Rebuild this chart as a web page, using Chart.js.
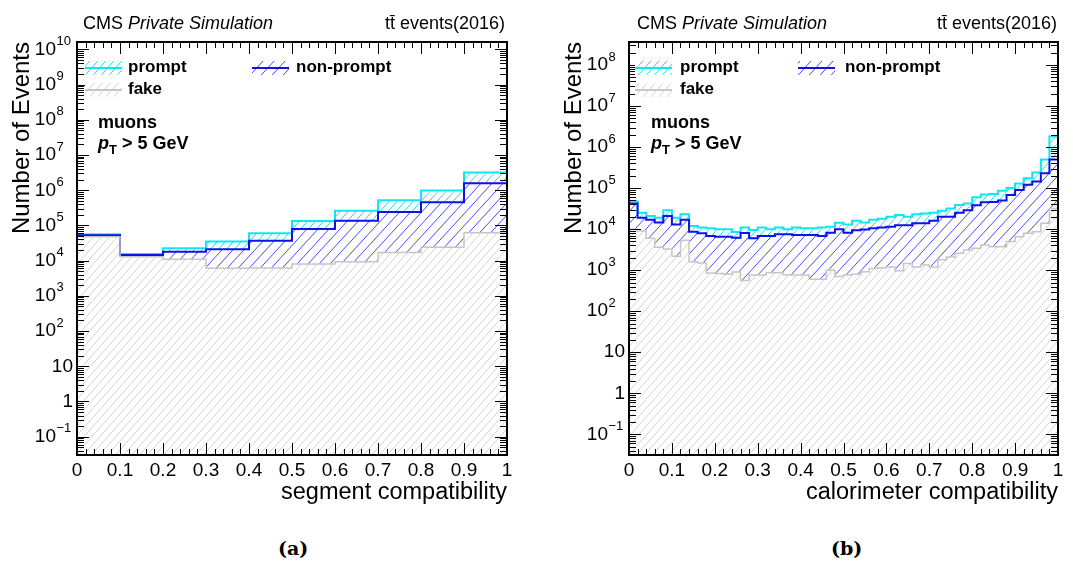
<!DOCTYPE html>
<html lang="en">
<head>
<meta charset="utf-8">
<title>muon compatibility</title>
<script src="https://cdn.jsdelivr.net/npm/chart.js@4.4.1/dist/chart.umd.min.js"></script>
<style>
  body { margin: 0; background: #fff; }
  #hoja { position: relative; width: 1073px; height: 567px; overflow: hidden;
          font-family: "Liberation Sans", Arial, sans-serif; color: #000; }
  canvas { position: absolute; top: 0; }
  .t { position: absolute; white-space: nowrap; line-height: 20px; }
  .cab { font-size: 18px; }
  .ley { font-size: 17px; font-weight: bold; }
  .ann { font-size: 18px; font-weight: bold; }
  .ann sub { font-size: 13px; vertical-align: -5px; }
  .pie { font-family: "DejaVu Serif", serif; font-weight: bold; font-size: 19px; }
</style>
</head>
<body>
<div id="hoja">
  <canvas id="grafSeg" width="536" height="510" style="left:0"></canvas>
  <canvas id="grafCal" width="536" height="510" style="left:537px"></canvas>

  <!-- panel (a) -->
  <div class="t cab" style="left:83px; top:13px">CMS <i>Private Simulation</i></div>
  <div class="t cab" style="right:568px; top:13px">tt&#x0304; events(2016)</div>
  <div class="t ley" style="left:128px; top:57px">prompt</div>
  <div class="t ley" style="left:296px; top:57px">non-prompt</div>
  <div class="t ley" style="left:128px; top:79px">fake</div>
  <div class="t ann" style="left:98px; top:112px">muons</div>
  <div class="t ann" style="left:98px; top:133px"><i>p</i><sub>T</sub> &gt; 5 GeV</div>

  <!-- panel (b) -->
  <div class="t cab" style="left:637px; top:13px">CMS <i>Private Simulation</i></div>
  <div class="t cab" style="right:16px; top:13px">tt&#x0304; events(2016)</div>
  <div class="t ley" style="left:680px; top:57px">prompt</div>
  <div class="t ley" style="left:845px; top:57px">non-prompt</div>
  <div class="t ley" style="left:680px; top:79px">fake</div>
  <div class="t ann" style="left:651px; top:112px">muons</div>
  <div class="t ann" style="left:651px; top:133px"><i>p</i><sub>T</sub> &gt; 5 GeV</div>

  <div class="t pie" style="left:278px; top:538px">(a)</div>
  <div class="t pie" style="left:831px; top:538px">(b)</div>
</div>
<script>
// Alturas acumuladas del stack (fake, fake+non-prompt, total)
const segFake = [4.8e4, 1.3e4, 1.1e4, 6.1e3, 6.2e3, 8.0e3, 9.4e3, 1.7e4, 2.4e4, 6.2e4];
const segNonPrompt = [5.3e4, 1.45e4, 1.8e4, 2.1e4, 3.7e4, 7.9e4, 1.37e5, 2.4e5, 4.6e5, 1.58e6];
const segPrompt = [5.6e4, 1.55e4, 2.25e4, 3.5e4, 6.0e4, 1.35e5, 2.6e5, 5.2e5, 9.8e5, 3.2e6];

const calFake = [1.0e4, 9.0e3, 6.0e3, 3.6e3, 3.3e3, 2.2e3, 5.4e3, 1.6e3, 1.5e3, 850,
  830, 800, 900, 560, 760, 760, 870, 870, 760, 760,
  760, 600, 600, 1.0e3, 700, 760, 800, 910, 1.1e3, 1.15e3,
  1.2e3, 970, 1.45e3, 1.2e3, 1.33e3, 1.2e3, 1.8e3, 2.1e3, 2.6e3, 3.1e3,
  3.4e3, 4.1e3, 3.7e3, 3.7e3, 5.0e3, 6.5e3, 7.9e3, 8.6e3, 1.4e4, 3.2e4];
const calNonPrompt = [4.2e4, 1.9e4, 1.7e4, 1.45e4, 2.1e4, 1.3e4, 1.7e4, 8.6e3, 7.9e3, 6.8e3,
  6.5e3, 6.5e3, 6.2e3, 8.0e3, 6.0e3, 6.8e3, 6.8e3, 7.5e3, 7.5e3, 7.2e3,
  7.2e3, 7.2e3, 6.8e3, 8.2e3, 9.9e3, 8.2e3, 9.4e3, 9.8e3, 1.05e4, 1.1e4,
  1.15e4, 1.25e4, 1.25e4, 1.4e4, 1.4e4, 1.6e4, 2.0e4, 2.0e4, 2.5e4, 2.9e4,
  3.8e4, 4.5e4, 4.6e4, 5.0e4, 6.8e4, 9.0e4, 1.2e5, 1.45e5, 2.3e5, 5.0e5];
const calPrompt = [4.8e4, 2.5e4, 2.1e4, 1.9e4, 2.9e4, 1.9e4, 2.3e4, 1.2e4, 1.1e4, 1.05e4,
  1.0e4, 1.0e4, 8.5e3, 1.1e4, 9.5e3, 1.1e4, 1.0e4, 1.1e4, 1.0e4, 1.1e4,
  1.05e4, 1.05e4, 1.1e4, 1.15e4, 1.43e4, 1.3e4, 1.6e4, 1.45e4, 1.7e4, 1.8e4,
  2.0e4, 2.2e4, 2.0e4, 2.3e4, 2.4e4, 2.5e4, 2.8e4, 3.2e4, 3.9e4, 4.2e4,
  6.0e4, 7.0e4, 7.2e4, 8.6e4, 1.0e5, 1.3e5, 1.75e5, 2.4e5, 5.0e5, 1.8e6];

// etiquetas de los ejes
const xTicks = [0, 0.1, 0.2, 0.3, 0.4, 0.5, 0.6, 0.7, 0.8, 0.9, 1];
const segDecadas = [1e-1, 1, 1e1, 1e2, 1e3, 1e4, 1e5, 1e6, 1e7, 1e8, 1e9, 1e10];
const calDecadas = [1e-1, 1, 1e1, 1e2, 1e3, 1e4, 1e5, 1e6, 1e7, 1e8];

const fuente = '"Liberation Sans", Arial, sans-serif';
Chart.defaults.font.family = fuente;
Chart.defaults.color = '#000';

// patron rayado tipo ROOT (fondo blanco para tapar las capas de detras)
function rayado(ctx, color, ancho, alto) {
  const c = document.createElement('canvas');
  c.width = ancho;
  c.height = alto;
  const g = c.getContext('2d');
  g.fillStyle = '#fff';
  g.fillRect(0, 0, ancho, alto);
  g.strokeStyle = color;
  g.lineWidth = 1;
  g.beginPath();
  for (const dx of [-ancho, 0, ancho]) {
    g.moveTo(dx, alto);
    g.lineTo(dx + ancho, 0);
  }
  g.stroke();
  return ctx.createPattern(c, 'repeat');
}

// marco, ticks hacia dentro, etiquetas 10^n y muestras de la leyenda
const marco = {
  id: 'marco',
  afterDraw(chart, args, opts) {
    const { ctx, chartArea: a } = chart;
    const x = chart.scales.x;
    const y = chart.scales.y;
    ctx.save();
    ctx.strokeStyle = '#000';
    ctx.lineWidth = 1;
    ctx.beginPath();
    for (let k = 0; k <= 50; k++) {
      const px = Math.round(x.getPixelForValue(k / 50)) + 0.5;
      const l = k % 5 === 0 ? 12 : 6;
      ctx.moveTo(px, a.bottom);
      ctx.lineTo(px, a.bottom - l);
      ctx.moveTo(px, a.top);
      ctx.lineTo(px, a.top + l);
    }
    for (let e = -2; e <= 10; e++) {
      for (let m = 1; m < 10; m++) {
        const v = m * Math.pow(10, e);
        if (v < y.min || v > y.max) continue;
        const py = Math.round(y.getPixelForValue(v)) + 0.5;
        const l = m === 1 ? 12 : 7;
        ctx.moveTo(a.left, py);
        ctx.lineTo(a.left + l, py);
        ctx.moveTo(a.right, py);
        ctx.lineTo(a.right - l, py);
      }
    }
    ctx.stroke();
    ctx.lineWidth = 2;
    ctx.strokeRect(a.left, a.top, a.right - a.left, a.bottom - a.top);

    // etiquetas del eje y con exponente
    ctx.fillStyle = '#000';
    ctx.textBaseline = 'middle';
    for (const t of y.ticks) {
      const py = y.getPixelForValue(t.value);
      const e = Math.round(Math.log10(t.value));
      ctx.font = '19px ' + fuente;
      if (e === 0 || e === 1) {
        ctx.textAlign = 'right';
        ctx.fillText(e === 0 ? '1' : '10', a.left - 4, py);
      } else {
        const xb = a.left - 21;
        ctx.textAlign = 'right';
        ctx.fillText('10', xb, py);
        ctx.textAlign = 'left';
        ctx.font = '13px ' + fuente;
        ctx.fillText(String(e).replace('-', '\u2212'), xb + 0.5, py - 8);
      }
    }

    for (const m of opts.muestras || []) {
      ctx.fillStyle = m.relleno;
      ctx.fillRect(m.x, m.y, m.w, m.h);
      ctx.strokeStyle = m.linea;
      ctx.lineWidth = 2;
      ctx.beginPath();
      ctx.moveTo(m.x, m.y + m.h / 2);
      ctx.lineTo(m.x + m.w, m.y + m.h / 2);
      ctx.stroke();
    }
    ctx.restore();
  }
};

function crearGrafica(id, cfg) {
  const ctx = document.getElementById(id).getContext('2d');
  const n = cfg.fake.length;
  const w = 1 / n;
  const barras = vals => vals.map((v, i) => ({ x: (i + 0.5) * w, y: v }));
  const contorno = vals => vals.map((v, i) => ({ x: i * w, y: v })).concat([{ x: 1, y: vals[n - 1] }]);

  const rPrompt = rayado(ctx, '#20e4ee', 8, 9);
  const rNonPrompt = rayado(ctx, '#4848ff', 11, 12);
  const rFake = rayado(ctx, '#d2d2d2', 8, 9);

  const barra = (label, vals, relleno, orden) => ({
    type: 'bar', label, data: barras(vals), backgroundColor: relleno,
    borderWidth: 0, grouped: false, barPercentage: 1, categoryPercentage: 1, order: orden
  });
  const linea = (vals, color, ancho, orden) => ({
    type: 'line', data: contorno(vals), borderColor: color, borderWidth: ancho,
    stepped: true, pointRadius: 0, fill: false, order: orden
  });

  const m = cfg.muestras;
  return new Chart(ctx, {
    type: 'bar',
    data: {
      datasets: [
        barra('prompt', cfg.prompt, rPrompt, 6),
        barra('non-prompt', cfg.nonPrompt, rNonPrompt, 5),
        barra('fake', cfg.fake, rFake, 4),
        linea(cfg.prompt, '#10e6f2', 2, 3),
        linea(cfg.nonPrompt, '#1010e8', 2, 2),
        linea(cfg.fake, '#c6c6c6', 1.5, 1)
      ]
    },
    options: {
      responsive: false,
      animation: false,
      events: [],
      layout: { padding: { top: 42, right: cfg.margenDer, left: 0, bottom: 0 } },
      plugins: {
        legend: { display: false },
        tooltip: { enabled: false },
        marco: {
          muestras: [
            { x: m[0], y: 61, w: 37, h: 14, relleno: rPrompt, linea: '#10e6f2' },
            { x: m[1], y: 61, w: 37, h: 14, relleno: rNonPrompt, linea: '#1010e8' },
            { x: m[0], y: 83, w: 37, h: 14, relleno: rFake, linea: '#c6c6c6' }
          ]
        }
      },
      scales: {
        x: {
          type: 'linear', min: 0, max: 1, offset: false,
          afterBuildTicks: s => { s.ticks = xTicks.map(v => ({ value: v })); },
          afterFit: s => { s.height = 55; },
          grid: { display: false, drawTicks: false },
          border: { display: false },
          ticks: { autoSkip: false, maxRotation: 0, padding: 4, font: { size: 19 },
                   callback: v => String(+v.toFixed(1)) },
          title: { display: true, text: cfg.tituloX, align: 'end', font: { size: 23.5 },
                   padding: { top: 0, bottom: 3 } }
        },
        y: {
          type: 'logarithmic', min: cfg.yMin, max: cfg.yMax,
          afterBuildTicks: s => { s.ticks = cfg.decadas.map(v => ({ value: v })); },
          afterFit: s => { s.width = cfg.anchoEjeY; },
          grid: { display: false, drawTicks: false },
          border: { display: false },
          ticks: { display: false, autoSkip: false },
          title: { display: true, text: 'Number of Events', align: 'end', font: { size: 24 },
                   padding: { top: cfg.padTituloY, bottom: 0 } }
        }
      }
    },
    plugins: [marco]
  });
}

crearGrafica('grafSeg', {
  fake: segFake, nonPrompt: segNonPrompt, prompt: segPrompt,
  yMin: 0.0302, yMax: 1.63e10, decadas: segDecadas,
  tituloX: 'segment compatibility',
  anchoEjeY: 77, margenDer: 29, padTituloY: 8, muestras: [85, 252]
});

crearGrafica('grafCal', {
  fake: calFake, nonPrompt: calNonPrompt, prompt: calPrompt,
  yMin: 0.0313, yMax: 3.64e8, decadas: calDecadas,
  tituloX: 'calorimeter compatibility',
  anchoEjeY: 92, margenDer: 15, padTituloY: 23, muestras: [98, 261]
});
</script>
</body>
</html>
